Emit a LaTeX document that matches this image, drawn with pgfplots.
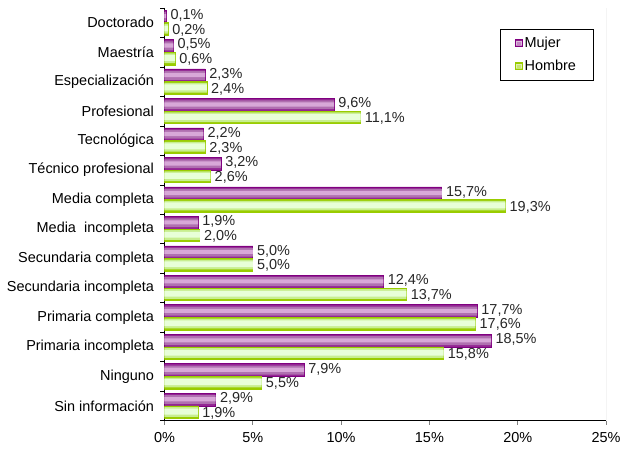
\documentclass[border=0pt]{standalone}
\usepackage{pgfplots}
\usepackage{pgfplotstable}
\pgfplotsset{compat=1.18}
\usepackage{fontspec}
\setmainfont{Liberation Sans}

\definecolor{mujerdark}{HTML}{800080}
\definecolor{mujermid}{HTML}{B070B0}
\definecolor{mujerlight}{HTML}{D8A8D8}
\definecolor{hombredark}{HTML}{99CC00}
\definecolor{hombremid}{HTML}{C8EE90}
\definecolor{hombrelight}{HTML}{E8FFD8}

% education level: 0 = Doctorado (top) ... 13 = Sin informacion (bottom)
\pgfplotstableread{
y mujer hombre
0 0.1 0.2
1 0.5 0.6
2 2.3 2.4
3 9.6 11.1
4 2.2 2.3
5 3.2 2.6
6 15.7 19.3
7 1.9 2.0
8 5.0 5.0
9 12.4 13.7
10 17.7 17.6
11 18.5 15.8
12 7.9 5.5
13 2.9 1.9
}\niveles

\begin{document}
\begin{tikzpicture}
  \begin{axis}[
      scale only axis,
      width=443pt, height=414pt,
      xbar,
      xmin=0, xmax=25,
      ymin=-0.5, ymax=13.5,
      y dir=reverse,
      axis x line*=bottom,
      axis y line*=left,
      axis line style={line width=0.6pt},
      tick align=outside,
      major tick length=4pt,
      xtick={0,5,...,25},
      xticklabels={0\%,5\%,10\%,15\%,20\%,25\%},
      ytick={0,...,13},
      yticklabels={Doctorado,Maestría,Especialización,Profesional,Tecnológica,Técnico profesional,Media completa,Media\ \ incompleta,Secundaria completa,Secundaria incompleta,Primaria completa,Primaria incompleta,Ninguno,Sin información\ },
      y tick style={draw=none},
      extra y ticks={-0.5,0.5,...,13.5},
      extra y tick labels={},
      extra y tick style={y tick style={draw=black, line width=0.6pt}},
      x tick style={line width=0.6pt},
      ticklabel style={font=\fontsize{14.5}{16}\selectfont},
      xticklabel style={yshift=-4pt},
      yticklabel style={xshift=-3pt},
      /pgf/number format/assume math mode=true,
      etiqueta/.style={
        nodes near coords={\pgfmathprintnumber[fixed,fixed zerofill,precision=1,use comma]{\pgfplotspointmeta}\%},
        nodes near coords style={font=\fontsize{14.5}{16}\selectfont, color=black!85, inner sep=0pt, anchor=west, xshift=4pt, yshift=#1}},
      legend style={at={(0.971,0.949)}, anchor=north east, draw=black, line width=0.6pt,
        font=\fontsize{14.5}{16}\selectfont, inner xsep=15pt, inner ysep=6pt, row sep=7pt, cells={anchor=west}},
      legend image code/.code={
        \draw[#1, line width=0.6pt] (0pt,-3.5pt) rectangle (7pt,3.5pt);
        \fill[white, opacity=0.45] (0.8pt,-1.8pt) rectangle (6.2pt,1.8pt);},
    ]
    % Mujer: outer bar plus lighter inner strips for the glossy look
    \addplot[draw=mujerdark, fill=mujerdark!85, line width=0.7pt, bar width=0.43, bar shift=-0.215, etiqueta=1pt]
      table[x=mujer, y=y] {\niveles};
    \addplot[draw=none, fill=mujermid, bar width=0.30, bar shift=-0.215, forget plot]
      table[x=mujer, y=y] {\niveles};
    \addplot[draw=none, fill=mujerlight, bar width=0.14, bar shift=-0.225, forget plot]
      table[x=mujer, y=y] {\niveles};
    % Hombre
    \addplot[draw=hombredark, fill=hombredark, line width=0.7pt, bar width=0.43, bar shift=0.215, etiqueta=-1pt]
      table[x=hombre, y=y] {\niveles};
    \addplot[draw=none, fill=hombremid, bar width=0.33, bar shift=0.205, forget plot]
      table[x=hombre, y=y] {\niveles};
    \addplot[draw=none, fill=hombrelight, bar width=0.20, bar shift=0.195, forget plot]
      table[x=hombre, y=y] {\niveles};
    \legend{Mujer, Hombre}
    \draw[gray!70, line width=0.8pt] (rel axis cs:1,0) -- (rel axis cs:1,1);
  \end{axis}
  \pgfresetboundingbox
  \path[use as bounding box] (-165pt,-30pt) rectangle (458pt,422pt);
\end{tikzpicture}
\end{document}
